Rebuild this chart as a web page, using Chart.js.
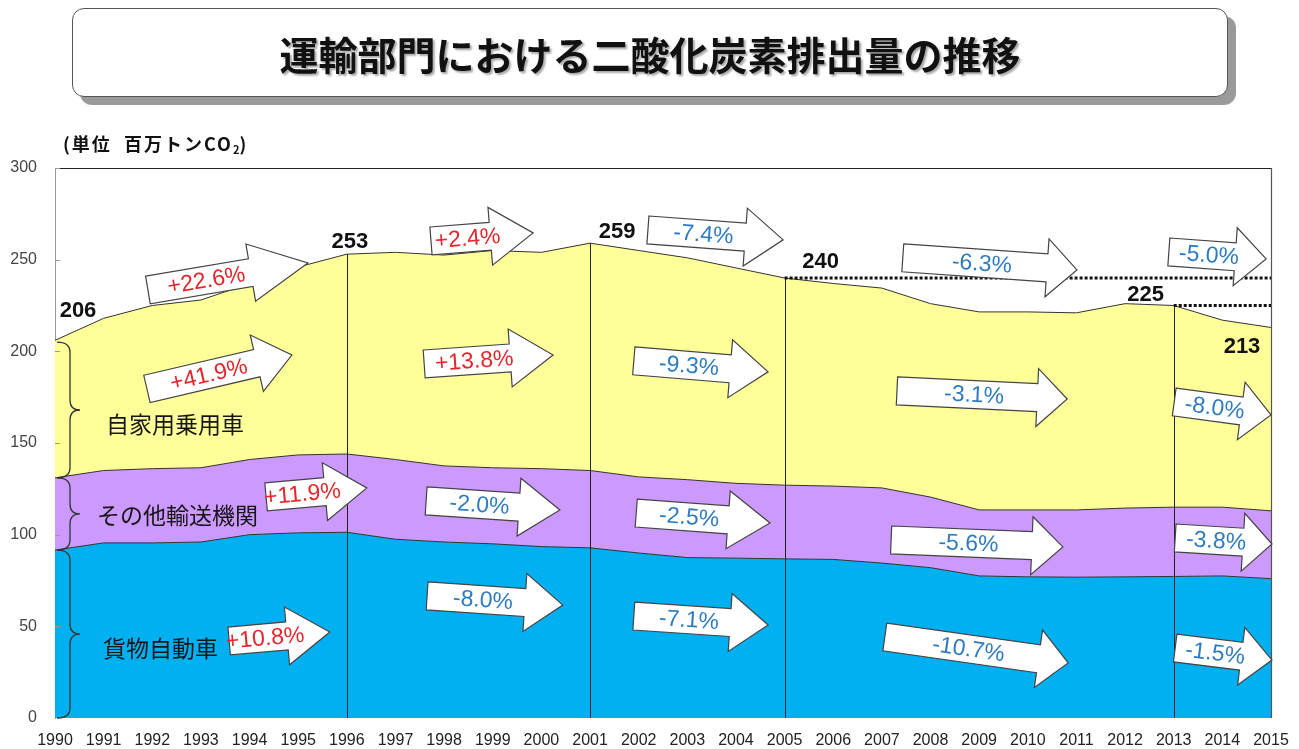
<!DOCTYPE html>
<html lang="ja">
<head>
<meta charset="utf-8">
<title>運輸部門における二酸化炭素排出量の推移</title>
<script src="https://cdn.jsdelivr.net/npm/chart.js@4.4.1/dist/chart.umd.min.js"></script>
<style>
  html, body { margin: 0; padding: 0; background: #fff; }
  #wrap { position: relative; width: 1299px; height: 749px; overflow: hidden; }
  #chartBox { position: absolute; left: 0; top: 0; width: 1299px; height: 749px; }
  #title {
    position: absolute; left: 72px; top: 8px; width: 1154px; height: 87px;
    border: 1px solid #555; border-radius: 12px; background: #fff;
    box-shadow: 8px 8px 0 #9a9a9a;
    display: flex; align-items: center; justify-content: center;
    font-family: "Noto Sans CJK JP", sans-serif; font-weight: bold; font-size: 39px;
    color: #111; text-shadow: 2px 2px 2px #aaa;
  }
  #unit {
    position: absolute; left: 63px; top: 130px; letter-spacing: 2px;
    font-family: "Noto Sans CJK JP", sans-serif; font-weight: bold; font-size: 18px; color: #111;
  }
  #unit sub { font-size: 11px; vertical-align: -3px; letter-spacing: 0; }
</style>
</head>
<body>
<div id="wrap">
  <div id="chartBox"><canvas id="chart"></canvas></div>
  <div id="title">運輸部門における二酸化炭素排出量の推移</div>
  <div id="unit">(単位&nbsp; 百万トンCO<sub>2</sub>)</div>
</div>
<script>
/* ── Data (百万トンCO2) ── */
var years = ['1990','1991','1992','1993','1994','1995','1996','1997','1998','1999','2000',
  '2001','2002','2003','2004','2005','2006','2007','2008','2009','2010','2011','2012','2013','2014','2015'];

// 貨物自動車
var freight = [91.6, 95.5, 95.5, 96, 100, 101, 101.3, 97.5, 96, 95, 93.5,
  92.8, 90, 87.5, 87.2, 86.8, 86.5, 84.5, 82, 77.5, 77, 76.8, 77, 77.2, 77.5, 76];
// その他輸送機関
var otherModes = [39.4, 39.5, 40.5, 40.5, 41, 42.5, 42.7, 43.5, 41.5, 41.5, 42.5,
  42.2, 41.5, 42.5, 40.8, 40.2, 40, 41, 38.5, 36, 36.5, 36.7, 37.5, 37.8, 37.5, 37];
// 自家用乗用車
var privateCars = [75, 83, 89, 91.5, 96, 102.5, 109, 113, 115, 118.5, 118,
  124, 123.5, 121, 117.5, 113, 110.5, 109, 105.5, 108, 108, 107.5, 111.5, 110, 102, 100];

var seriesNames = ['貨物自動車', 'その他輸送機関', '自家用乗用車'];
var seriesColors = ['#00b0f0', '#cc99ff', '#ffff99'];
var yTicks = [0, 50, 100, 150, 200, 250, 300];

var breakYears = [1996, 2001, 2005, 2013];
var labelYears = [1990, 1996, 2001, 2005, 2013, 2015];
// reference levels drawn as dotted lines: [value, fromYear, toYear]
var refLines = [[240, 2005, 2015], [225, 2013, 2015]];

// change arrows: [text, tailYear, tailValue, tipYear, tipValue, headLength]
var arrows = [
  ['+22.6%', 1991.91, 233.5, 1995.20, 248.2, 58],
  ['+2.4%', 1997.73, 260.2, 1999.83, 264.6, 43],
  ['-7.4%', 2002.19, 266.2, 2004.97, 260.8, 38],
  ['-6.3%', 2007.43, 251.0, 2011.01, 244.4, 30],
  ['-5.0%', 2012.90, 254.2, 2014.90, 250.4, 31],
  ['+41.9%', 1991.89, 179.5, 1994.87, 198.0, 36],
  ['+13.8%', 1997.59, 193.1, 2000.24, 198.0, 43],
  ['-9.3%', 2001.90, 194.8, 2004.66, 188.8, 38],
  ['-3.1%', 2007.31, 178.4, 2010.81, 174.0, 30],
  ['-8.0%', 2013.01, 172.4, 2015.0, 165.3, 30],
  ['+11.9%', 1994.34, 120.6, 1996.41, 125.5, 42],
  ['-2.0%', 1997.63, 118.4, 2000.38, 113.5, 41],
  ['-2.5%', 2001.95, 111.8, 2004.70, 106.4, 42],
  ['-5.6%', 2007.19, 97.1, 2010.72, 93.3, 31],
  ['-3.8%', 2013.03, 98.2, 2015.02, 94.9, 29],
  ['+10.8%', 1993.58, 42.0, 1995.65, 46.9, 43],
  ['-8.0%', 1997.65, 66.6, 2000.44, 61.6, 38],
  ['-7.1%', 2001.90, 55.6, 2004.66, 50.7, 38],
  ['-10.7%', 2007.06, 44.2, 2010.83, 30.0, 30],
  ['-1.5%', 2013.03, 38.2, 2015.02, 31.6, 31]
];

/* ── Helpers ── */
function totalAt(i) {
  return freight[i] + otherModes[i] + privateCars[i];
}
function totalAtYear(yr) {
  var f = yr - 1990, i = Math.floor(f), t = f - i;
  if (i >= years.length - 1) return totalAt(years.length - 1);
  return totalAt(i) * (1 - t) + totalAt(i + 1) * t;
}

var LATIN = '"Liberation Sans", Arial, sans-serif';
var CJK = '"Noto Sans CJK JP", sans-serif';

var overlay = {
  id: 'overlay',
  afterDatasetsDraw: function (chart) {
    var ctx = chart.ctx, xs = chart.scales.x, ys = chart.scales.y, a = chart.chartArea;
    function px(yr) { return xs.getPixelForValue(yr - 1990); }
    function py(v) { return ys.getPixelForValue(v); }

    ctx.save();

    // frame: top and right edges, small inner ticks on the left
    ctx.strokeStyle = '#222';
    ctx.lineWidth = 1.2;
    ctx.beginPath();
    ctx.moveTo(a.left, a.top + 0.5); ctx.lineTo(a.right, a.top + 0.5);
    ctx.stroke();
    ctx.strokeStyle = '#555';
    ctx.beginPath();
    ctx.moveTo(a.right + 0.5, a.top); ctx.lineTo(a.right + 0.5, a.bottom);
    ctx.stroke();
    ctx.strokeStyle = '#999';
    ctx.lineWidth = 1;
    yTicks.forEach(function (v) {
      if (v === 0) return;
      var y = Math.round(py(v)) + 0.5;
      ctx.beginPath(); ctx.moveTo(a.left, y); ctx.lineTo(a.left + 5, y); ctx.stroke();
    });

    // period separators
    ctx.strokeStyle = '#222';
    ctx.lineWidth = 1;
    breakYears.forEach(function (yr) {
      var x = Math.round(px(yr)) + 0.5;
      ctx.beginPath(); ctx.moveTo(x, py(0)); ctx.lineTo(x, py(totalAtYear(yr))); ctx.stroke();
    });

    // dotted reference levels
    ctx.strokeStyle = '#111';
    ctx.lineWidth = 3;
    ctx.setLineDash([3, 2]);
    refLines.forEach(function (r) {
      var y = py(r[0]);
      ctx.beginPath(); ctx.moveTo(px(r[1]), y); ctx.lineTo(px(r[2]), y); ctx.stroke();
    });
    ctx.setLineDash([]);

    // block arrows with % change
    arrows.forEach(function (ar) {
      var x0 = px(ar[1]), y0 = py(ar[2]), x1 = px(ar[3]), y1 = py(ar[4]), head = ar[5];
      var L = Math.hypot(x1 - x0, y1 - y0), ang = Math.atan2(y1 - y0, x1 - x0);
      var h = 14, H = 29;
      ctx.save();
      ctx.translate(x0, y0);
      ctx.rotate(ang);
      ctx.beginPath();
      ctx.moveTo(0, -h); ctx.lineTo(L - head, -h); ctx.lineTo(L - head, -H);
      ctx.lineTo(L, 0);
      ctx.lineTo(L - head, H); ctx.lineTo(L - head, h); ctx.lineTo(0, h);
      ctx.closePath();
      ctx.fillStyle = '#fff';
      ctx.fill();
      ctx.strokeStyle = '#444';
      ctx.lineWidth = 1.2;
      ctx.stroke();
      ctx.fillStyle = ar[0].charAt(0) === '+' ? '#e3262c' : '#2e7bbf';
      ctx.font = '23px ' + LATIN;
      ctx.textAlign = 'center';
      ctx.textBaseline = 'middle';
      ctx.fillText(ar[0], (L - head) / 2 + 7, 1);
      ctx.restore();
    });

    // totals at period boundaries
    var labelOffsets = [[23, -29], [3, -12], [27, -11], [36, -16], [-28, -11], [-29, 19]];
    ctx.fillStyle = '#111';
    ctx.font = 'bold 22px ' + LATIN;
    ctx.textAlign = 'center';
    ctx.textBaseline = 'middle';
    labelYears.forEach(function (yr, k) {
      var i = yr - 1990;
      ctx.fillText(String(Math.round(totalAt(i))), px(yr) + labelOffsets[k][0], py(totalAt(i)) + labelOffsets[k][1]);
    });

    // braces and category names
    var b0 = freight[0], b1 = b0 + otherModes[0], b2 = totalAt(0);
    var braces = [[0, b0], [b0, b1], [b1, b2 - 1]];
    var nameValues = [38, 110.5, 160];
    var nameLeft = [103, 97, 106];
    ctx.strokeStyle = '#333';
    ctx.lineWidth = 1.3;
    braces.forEach(function (br, k) {
      var yb = py(br[0]), yt = py(br[1]), ym = (yb + yt) / 2;
      var xe = a.left + 2, xs2 = a.left + 15, xt = a.left + 25, r = 10;
      ctx.beginPath();
      ctx.moveTo(xe, yt);
      ctx.quadraticCurveTo(xs2, yt, xs2, yt + r);
      ctx.lineTo(xs2, ym - r);
      ctx.quadraticCurveTo(xs2, ym, xt, ym);
      ctx.quadraticCurveTo(xs2, ym, xs2, ym + r);
      ctx.lineTo(xs2, yb - r);
      ctx.quadraticCurveTo(xs2, yb, xe, yb);
      ctx.stroke();
    });
    ctx.fillStyle = '#161616';
    ctx.font = '23px ' + CJK;
    ctx.textAlign = 'left';
    seriesNames.forEach(function (n, k) {
      ctx.fillText(n, nameLeft[k], py(nameValues[k]));
    });

    ctx.restore();
  }
};

/* ── Chart ── */
var series = [freight, otherModes, privateCars];
var datasets = series.map(function (vals, k) {
  return {
    label: seriesNames[k],
    data: vals,
    backgroundColor: seriesColors[k],
    borderColor: '#333',
    borderWidth: 1,
    pointRadius: 0,
    tension: 0,
    fill: k === 0 ? 'origin' : '-1'
  };
});

new Chart(document.getElementById('chart'), {
  type: 'line',
  data: { labels: years, datasets: datasets },
  options: {
    responsive: true,
    maintainAspectRatio: false,
    animation: false,
    layout: { padding: { top: 168, right: 28, left: 0, bottom: 0 } },
    plugins: {
      legend: { display: false },
      tooltip: { enabled: false }
    },
    scales: {
      x: {
        grid: { display: false },
        border: { display: false },
        ticks: {
          color: '#222', padding: 5, maxRotation: 0, autoSkip: false,
          font: { family: LATIN, size: 16 }
        },
        afterFit: function (s) { s.height = 31; }
      },
      y: {
        stacked: true,
        min: 0, max: 300,
        afterBuildTicks: function (s) { s.ticks = yTicks.map(function (v) { return { value: v }; }); },
        grid: { drawOnChartArea: false, drawTicks: false },
        border: { color: '#999', width: 1 },
        ticks: { color: '#444', padding: 18, font: { family: LATIN, size: 16 } },
        afterFit: function (s) { s.width = 55; }
      }
    }
  },
  plugins: [overlay]
});
</script>
</body>
</html>
